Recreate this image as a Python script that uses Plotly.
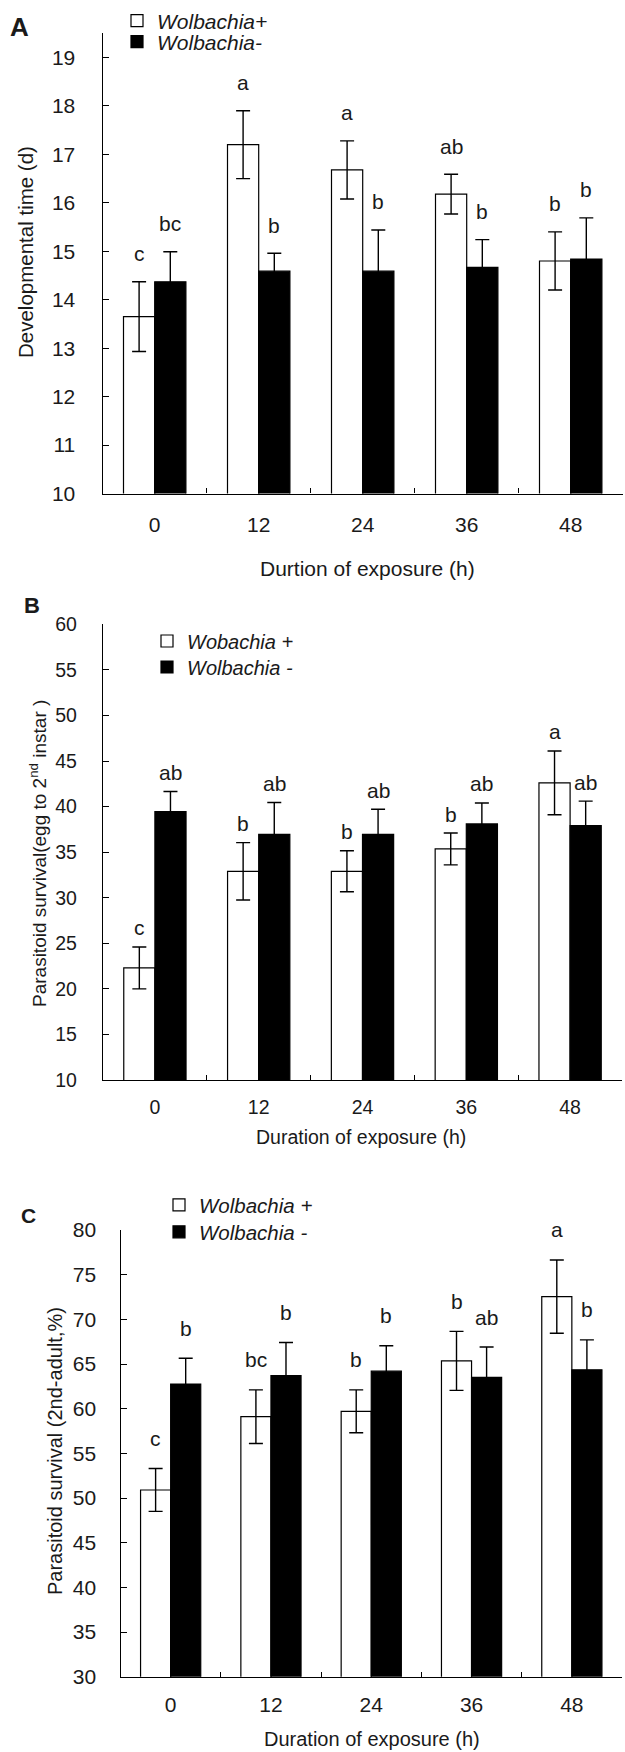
import plotly.graph_objects as go

W, H = 625, 1752

durations = ["0", "12", "24", "36", "48"]

# Panel A: developmental time (d)
dev_pos = [13.65, 17.20, 16.68, 16.18, 14.80]
dev_pos_err = [0.72, 0.70, 0.60, 0.41, 0.60]
dev_neg = [14.37, 14.59, 14.59, 14.67, 14.84]
dev_neg_err = [0.62, 0.37, 0.85, 0.57, 0.85]
dev_pos_letters = ["c", "a", "a", "ab", "b"]
dev_neg_letters = ["bc", "b", "b", "b", "b"]

# Panel B: survival egg to 2nd instar
e2_pos = [22.3, 32.9, 32.9, 35.35, 42.6]
e2_pos_err = [2.3, 3.15, 2.25, 1.75, 3.5]
e2_neg = [39.45, 36.95, 36.95, 38.1, 37.9]
e2_neg_err = [2.2, 3.5, 2.75, 2.3, 2.7]
e2_pos_letters = ["c", "b", "b", "b", "a"]
e2_neg_letters = ["ab", "ab", "ab", "ab", "ab"]

# Panel C: survival 2nd instar to adult
ad_pos = [50.9, 59.1, 59.7, 65.35, 72.55]
ad_pos_err = [2.4, 3.0, 2.4, 3.3, 4.1]
ad_neg = [62.75, 63.7, 64.2, 63.5, 64.35]
ad_neg_err = [2.9, 3.7, 2.85, 3.4, 3.35]
ad_pos_letters = ["c", "bc", "b", "b", "a"]
ad_neg_letters = ["b", "b", "b", "ab", "b"]

FONT = "Liberation Sans, Arial, sans-serif"
TXT = "#1a1a1a"

def px(x):
    return x / W

def py(y):
    return 1 - y / H

panels = [
    dict(pos=dev_pos, pos_err=dev_pos_err, neg=dev_neg, neg_err=dev_neg_err,
         pl=dev_pos_letters, nl=dev_neg_letters,
         names=("Wolbachia+", "Wolbachia-"),
         xdom=(102.7, 622.7), ydom=(33.3, 493.5), yrange=(10, 19.5), dtick=1,
         tickfont=21, tickstand=22, xtickstand=12, lshift=28,
         leg=[(117, 21), (117, 42)], legfont=21),
    dict(pos=e2_pos, pos_err=e2_pos_err, neg=e2_neg, neg_err=e2_neg_err,
         pl=e2_pos_letters, nl=e2_neg_letters,
         names=("Wobachia +", "Wolbachia -"),
         xdom=(103, 622), ydom=(624.3, 1080), yrange=(10, 60), dtick=5,
         tickfont=19.5, tickstand=21, xtickstand=9, lshift=19,
         leg=[(147, 641), (147, 667)], legfont=20),
    dict(pos=ad_pos, pos_err=ad_pos_err, neg=ad_neg, neg_err=ad_neg_err,
         pl=ad_pos_letters, nl=ad_neg_letters,
         names=("Wolbachia +", "Wolbachia -"),
         xdom=(120.5, 622), ydom=(1230, 1676.7), yrange=(30, 80), dtick=5,
         tickfont=21, tickstand=19, xtickstand=9, lshift=30,
         leg=[(159, 1205), (159, 1232)], legfont=20.5),
]

fig = go.Figure()
annotations = []
layout = {}
leg_idx = 0
for k, p in enumerate(panels):
    sfx = "" if k == 0 else str(k + 1)
    xa, ya = "x" + sfx, "y" + sfx
    for j, (vals, errs, fill, name) in enumerate([
        (p["pos"], p["pos_err"], "white", p["names"][0]),
        (p["neg"], p["neg_err"], "black", p["names"][1]),
    ]):
        leg_idx += 1
        lname = "legend" if leg_idx == 1 else "legend%d" % leg_idx
        fig.add_trace(go.Bar(
            x=durations, y=vals, name=name, xaxis=xa, yaxis=ya,
            marker=dict(color=fill, line=dict(color="black", width=1.2)),
            error_y=dict(type="data", array=errs, visible=True,
                         color="black", thickness=1.4, width=7),
            offsetgroup=str(j), legend=lname, showlegend=True,
        ))
        lx, ly = p["leg"][j]
        layout[lname] = dict(
            x=px(lx), y=py(ly), xanchor="left", yanchor="middle",
            bgcolor="rgba(0,0,0,0)", borderwidth=0, itemwidth=30,
            font=dict(family=FONT, size=p["legfont"], color=TXT, style="italic"),
        )
        letters = p["pl"] if j == 0 else p["nl"]
        off = -0.15 if j == 0 else 0.15
        for i, (v, e, t) in enumerate(zip(vals, errs, letters)):
            annotations.append(dict(
                x=i + off, y=v + e, xref=xa, yref=ya, text=t, showarrow=False,
                yanchor="middle", yshift=p["lshift"],
                font=dict(family=FONT, size=21, color=TXT),
            ))
    axis_common = dict(showline=True, linecolor="black", linewidth=1.4,
                       showgrid=False, zeroline=False, ticks="inside",
                       tickcolor="black", tickwidth=1.2, automargin=False)
    layout["xaxis" + sfx] = dict(
        axis_common, type="category", domain=[px(p["xdom"][0]), px(p["xdom"][1])],
        anchor=ya, tickson="boundaries", ticklen=5,
        tickfont=dict(family=FONT, size=p["tickfont"], color=TXT),
        ticklabelstandoff=p["xtickstand"],
    )
    layout["yaxis" + sfx] = dict(
        axis_common, domain=[py(p["ydom"][1]), py(p["ydom"][0])], anchor=xa,
        range=list(p["yrange"]), dtick=p["dtick"], tick0=p["yrange"][0], ticklen=6,
        tickfont=dict(family=FONT, size=p["tickfont"], color=TXT),
        ticklabelstandoff=p["tickstand"],
    )

def text_ann(x, y, t, size, angle=0, bold=False):
    return dict(x=px(x), y=py(y), xref="paper", yref="paper", text=t,
                showarrow=False, textangle=angle, xanchor="center", yanchor="middle",
                font=dict(family=FONT, size=size, color=TXT,
                          weight="bold" if bold else "normal"))

annotations += [
    text_ann(19, 27, "A", 26, bold=True),
    text_ann(32, 605, "B", 22, bold=True),
    text_ann(29, 1215, "C", 21, bold=True),
    text_ann(367, 568, "Durtion of exposure (h)", 21),
    text_ann(25, 252, "Developmental time (d)", 20.5, angle=-90),
    text_ann(361, 1137, "Duration of exposure (h)", 19.5),
    text_ann(38, 854, "Parasitoid survival(egg to 2<sup>nd</sup> instar )", 19, angle=-90),
    text_ann(372, 1739, "Duration of exposure (h)", 20),
    text_ann(55, 1451, "Parasitoid survival (2nd-adult,%)", 20, angle=-90),
]

fig.update_layout(
    width=W, height=H, margin=dict(l=0, r=0, t=0, b=0, autoexpand=False),
    paper_bgcolor="white", plot_bgcolor="white",
    barmode="group", bargap=0.4, bargroupgap=0,
    annotations=annotations, **layout,
)

fig.write_html(
    "out.html",
    config={"displayModeBar": False},
    post_script="document.body.style.margin='0px';document.body.style.padding='0px';"
                "document.documentElement.style.overflow='hidden';",
)
